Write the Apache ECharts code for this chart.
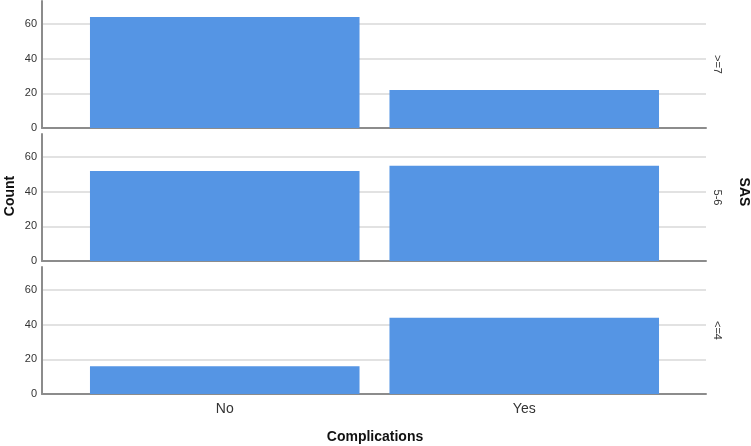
<!DOCTYPE html>
<html>
<head>
<meta charset="utf-8">
<script src="https://cdn.jsdelivr.net/npm/echarts@6/dist/echarts.min.js"></script>
<style>html,body{margin:0;padding:0;background:#fff}#c{width:751px;height:446px}</style>
</head>
<body>
<div id="c"></div>
<script>
const categories = ['No', 'Yes'];
const panelLabels = ['>=7', '5-6', '<=4'];
const valuesGE7 = [64, 22];
const values56 = [52, 55];
const valuesLE4 = [16, 44];
const yTicks = [0, 20, 40, 60];
const panelValues = [valuesGE7, values56, valuesLE4];

const FONT = 'Liberation Sans, Arial, sans-serif';
const tops = [1, 134, 267];
const H = 127;
const YMAX = 73.3;
const grids = [], xAxes = [], yAxes = [], series = [], graphics = [];

panelValues.forEach((vals, i) => {
  grids.push({left: 42, right: 45, top: tops[i], height: H});
  grids.push({left: 75, right: 77, top: tops[i], height: H});
  const gFrame = 2 * i, gBar = 2 * i + 1;
  xAxes.push({gridIndex: gFrame, type: 'value', min: 0, max: 1,
    axisLine: {show: true, onZero: false, lineStyle: {color: '#8c8c8c', width: 2}},
    axisTick: {show: false}, axisLabel: {show: false}, splitLine: {show: false}});
  xAxes.push({gridIndex: gBar, type: 'category', data: categories,
    axisLine: {show: false}, axisTick: {show: false},
    axisLabel: {show: i === 2, color: '#333', fontSize: 14, fontFamily: FONT, margin: 8}});
  yAxes.push({gridIndex: gFrame, type: 'value', min: 0, max: YMAX, interval: 20,
    axisLine: {show: true, lineStyle: {color: '#8c8c8c', width: 2}},
    axisTick: {show: false},
    axisLabel: {color: '#333', fontSize: 11, fontFamily: FONT, margin: 5, showMaxLabel: false,
      formatter: v => (yTicks.indexOf(v) >= 0 ? String(v) : '')},
    splitLine: {show: true, showMaxLine: false, lineStyle: {color: '#d9d9d9', width: 1.5}}});
  yAxes.push({gridIndex: gBar, type: 'value', min: 0, max: YMAX, show: false, splitLine: {show: false}});
  series.push({type: 'bar', xAxisIndex: gBar, yAxisIndex: gBar, data: vals,
    barCategoryGap: '10%', itemStyle: {color: '#5595e4'}, silent: true});
  graphics.push({type: 'text', x: 717, y: tops[i] + H / 2, rotation: -Math.PI / 2,
    style: {text: panelLabels[i], fill: '#333', font: '11px ' + FONT, align: 'center', verticalAlign: 'middle'}});
});

graphics.push({type: 'text', x: 10, y: 196, rotation: Math.PI / 2,
  style: {text: 'Count', fill: '#111', font: 'bold 14px ' + FONT, align: 'center', verticalAlign: 'middle'}});
graphics.push({type: 'text', x: 744, y: 192, rotation: -Math.PI / 2,
  style: {text: 'SAS', fill: '#111', font: 'bold 14px ' + FONT, align: 'center', verticalAlign: 'middle'}});
graphics.push({type: 'text', x: 375, y: 437,
  style: {text: 'Complications', fill: '#111', font: 'bold 14px ' + FONT, align: 'center', verticalAlign: 'middle'}});

const chart = echarts.init(document.getElementById('c'), null, {renderer: 'canvas'});
chart.setOption({
  animation: false,
  backgroundColor: '#fff',
  grid: grids, xAxis: xAxes, yAxis: yAxes, series: series, graphic: graphics
});
</script>
</body>
</html>
